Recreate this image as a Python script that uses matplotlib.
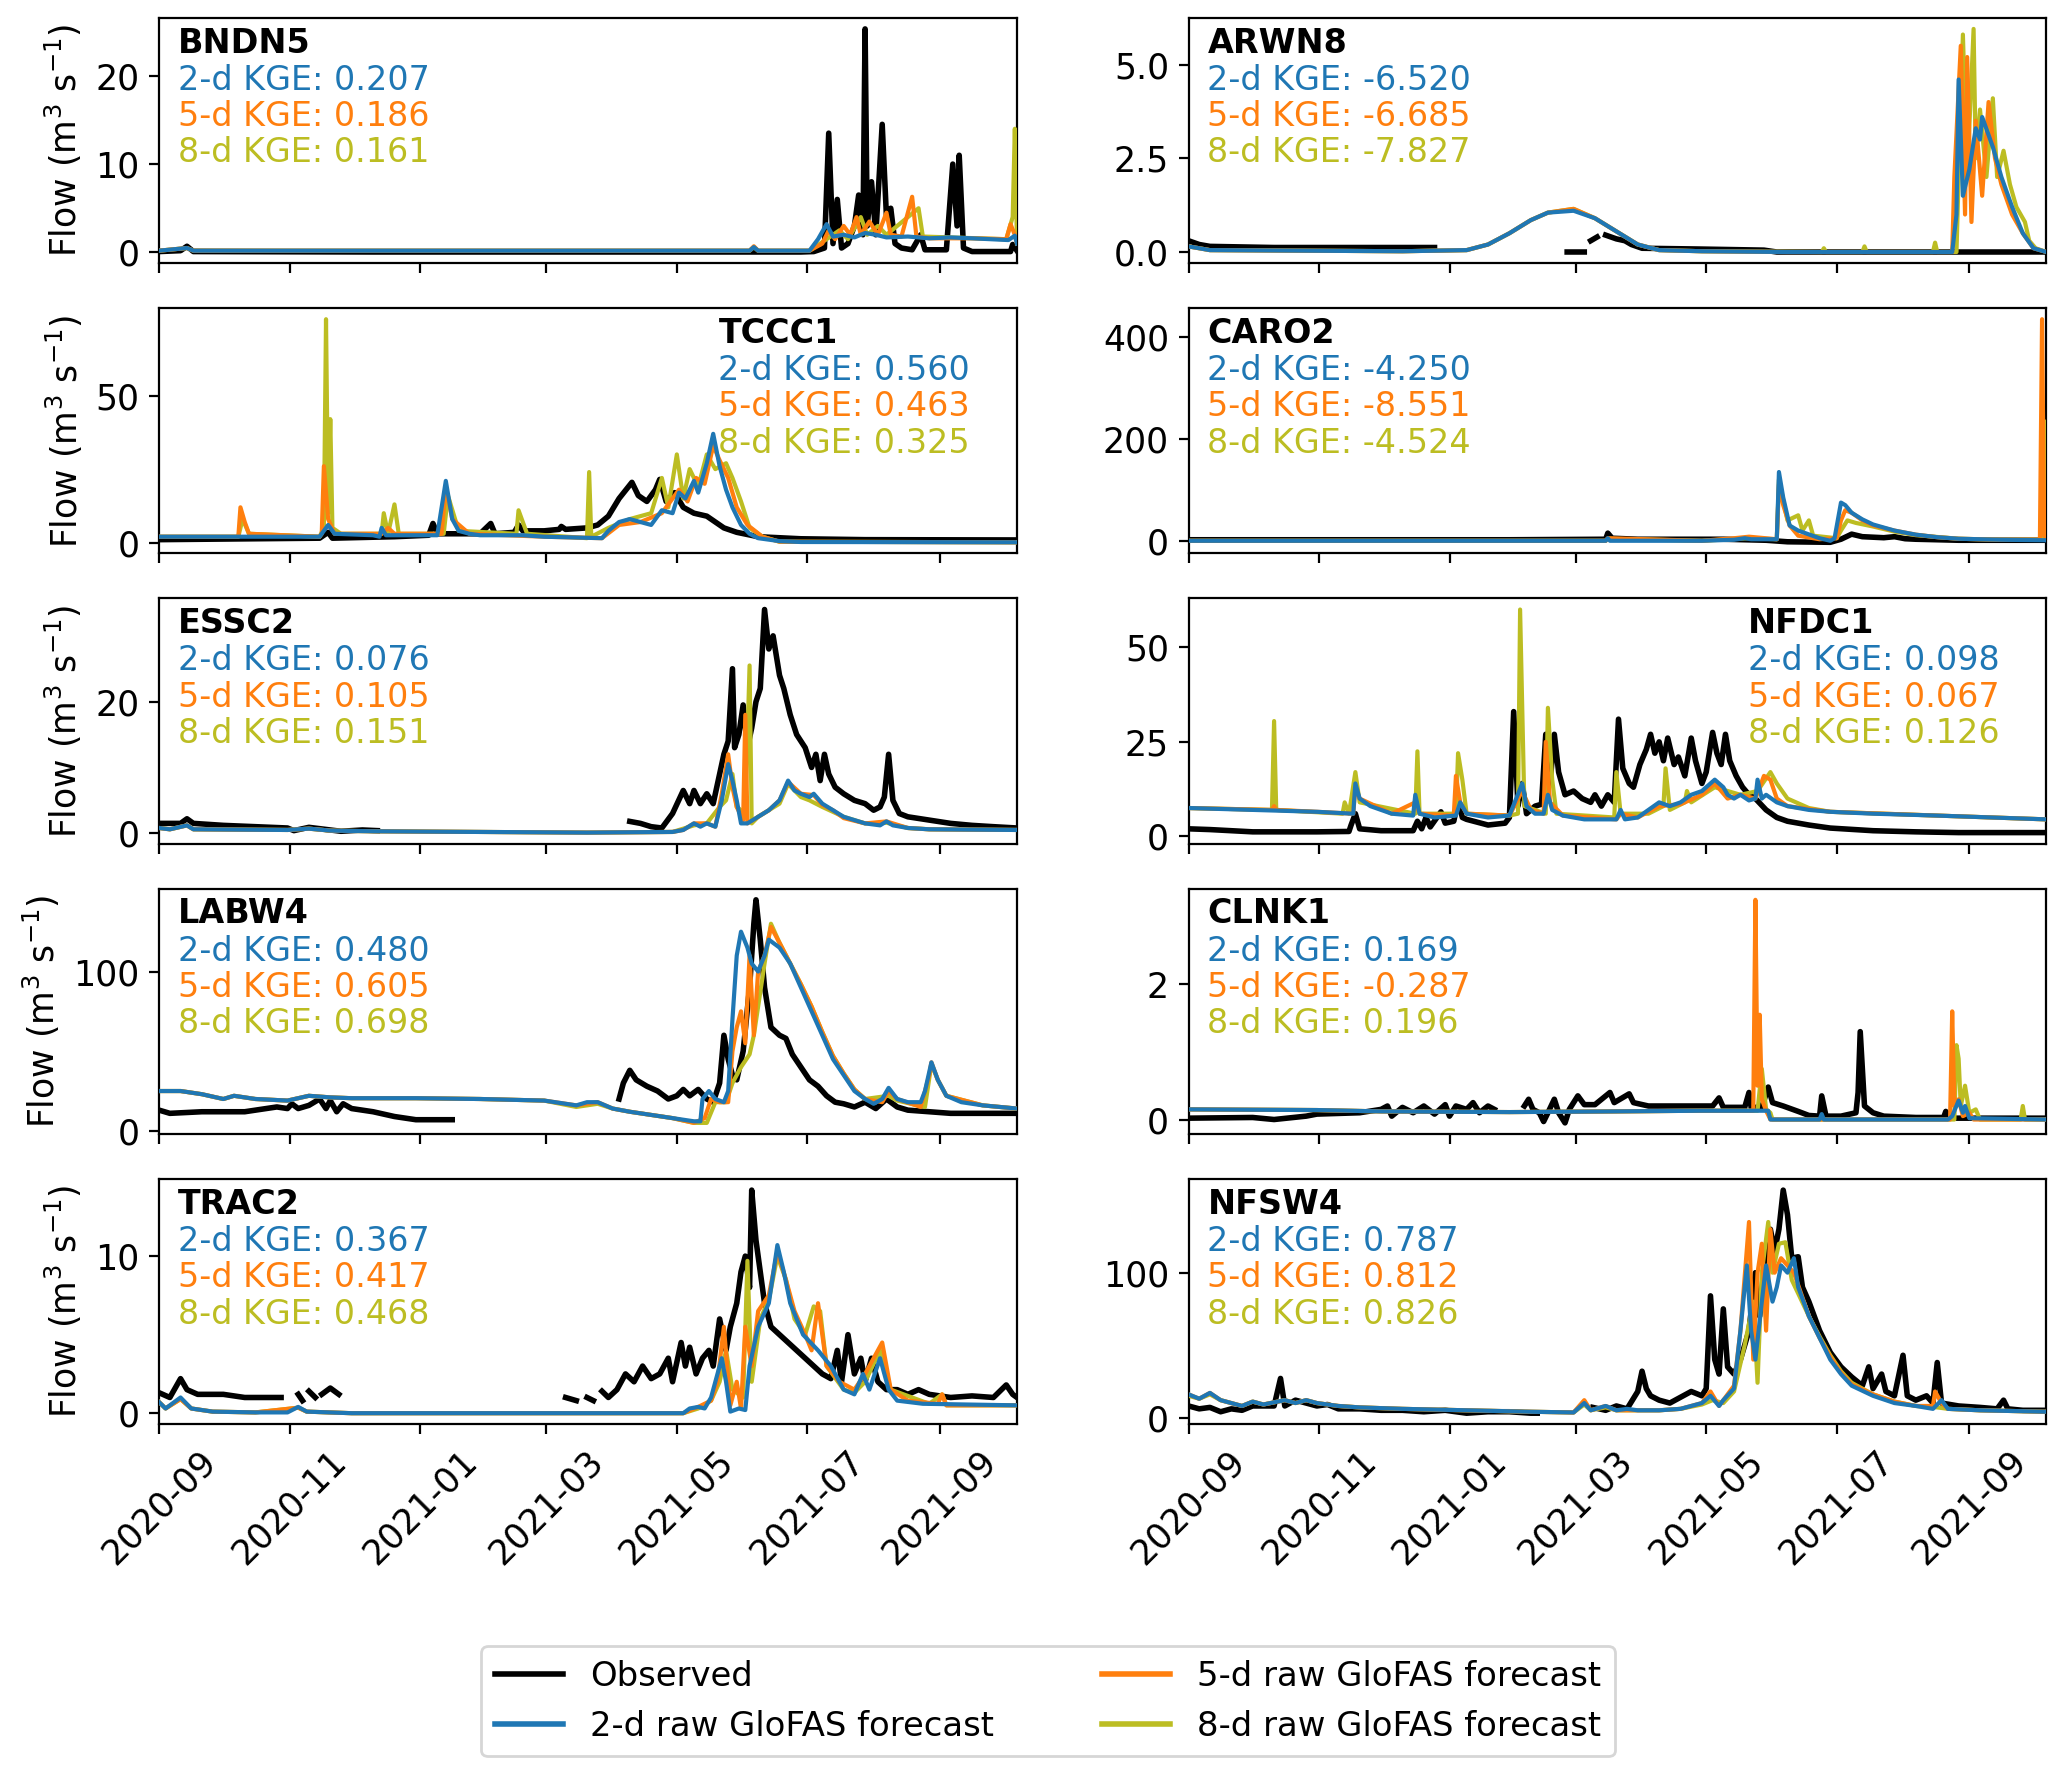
import numpy as np
import matplotlib
matplotlib.use("Agg")
from matplotlib import pyplot as plt
import matplotlib.dates as mdates

START = "2020-09-01"
END_DAY = 401

stations = ["BNDN5", "ARWN8", "TCCC1", "CARO2", "ESSC2",
            "NFDC1", "LABW4", "CLNK1", "TRAC2", "NFSW4"]
kge_2d = ["0.207", "-6.520", "0.560", "-4.250", "0.076",
          "0.098", "0.480", "0.169", "0.367", "0.787"]
kge_5d = ["0.186", "-6.685", "0.463", "-8.551", "0.105",
          "0.067", "0.605", "-0.287", "0.417", "0.812"]
kge_8d = ["0.161", "-7.827", "0.325", "-4.524", "0.151",
          "0.126", "0.698", "0.196", "0.468", "0.826"]
yticks = [[0, 10, 20], [0.0, 2.5, 5.0], [0, 50], [0, 200, 400], [0, 20],
          [0, 25, 50], [0, 100], [0, 2], [0, 10], [0, 100]]

# (day since 2020-09-01, flow); None = missing observation
bndn5_obs = [(0, 0.1), (10, 0.2), (13, 0.7), (16, 0.1), (100, 0.05), (300, 0.05), (306, 0.1), (311, 0.5),
             (313, 13.5), (315, 1), (317, 6), (319, 0.5), (322, 1), (325, 3), (327, 6.5), (329, 2), (330, 25.3),
             (331, 3), (333, 8), (335, 2), (338, 14.5), (340, 4), (342, 5), (344, 1), (347, 0.5), (352, 0.3),
             (356, 2), (358, 0.3), (368, 0.3), (371, 10), (373, 3), (374, 11), (376, 0.5), (380, 0.1),
             (398, 0.1), (399, 0.9), (401, 0.2)]
bndn5_d2 = [(0, 0.2), (13, 0.5), (16, 0.2), (276, 0.2), (278, 0.6), (280, 0.2), (304, 0.2), (308, 1.5),
            (312, 3.2), (315, 1.8), (320, 2.0), (325, 1.7), (330, 2.2), (335, 2.0), (340, 1.7), (350, 1.8),
            (360, 1.6), (370, 1.7), (380, 1.6), (397, 1.4), (400, 1.9), (401, 1.0)]
bndn5_d5 = [(0, 0.2), (13, 0.5), (16, 0.2), (276, 0.2), (278, 0.7), (280, 0.2), (304, 0.2), (310, 1.0),
            (313, 2.5), (316, 1.5), (320, 3), (323, 2), (326, 4), (328, 2), (332, 3.5), (336, 2), (340, 4.5),
            (342, 2), (347, 1.8), (352, 6.3), (354, 1.8), (360, 1.6), (380, 1.6), (396, 1.5), (398, 3.2),
            (400, 2), (401, 1)]
bndn5_d8 = [(0, 0.2), (13, 0.5), (16, 0.2), (276, 0.2), (278, 0.6), (280, 0.2), (304, 0.2), (312, 1.5),
            (318, 2.5), (322, 1.5), (328, 4), (331, 2), (336, 3), (340, 2), (355, 5), (357, 1.8), (370, 1.7),
            (396, 1.5), (399, 4), (400, 14), (401, 1)]

arwn8_obs = [(0, 0.3), (5, 0.2), (10, 0.15), (40, 0.12), (80, 0.12), (115, 0.12), (116, None),
             (177, 0.0), (185, 0.0), (186, None), (188, 0.3), (191, 0.4), (192, None), (195, 0.45),
             (200, 0.35), (204, 0.3), (207, 0.2), (212, 0.1), (238, 0.08), (269, 0.05), (275, 0.0), (401, 0.0)]
arwn8_d2 = [(0, 0.15), (10, 0.05), (100, 0.02), (130, 0.05), (140, 0.2), (150, 0.5), (160, 0.85), (168, 1.05),
            (180, 1.1), (190, 0.9), (200, 0.55), (210, 0.2), (220, 0.05), (240, 0.02), (280, 0.0), (357, 0.0),
            (359, 1.0), (360, 4.6), (362, 1.5), (365, 2.2), (368, 3.3), (370, 3.0), (371, 3.6), (376, 2.8),
            (380, 2.0), (385, 1.2), (390, 0.5), (395, 0.1), (401, 0.0)]
arwn8_d5 = [(0, 0.15), (10, 0.05), (100, 0.02), (130, 0.05), (140, 0.2), (150, 0.5), (160, 0.85), (168, 1.05),
            (180, 1.15), (190, 0.9), (200, 0.55), (210, 0.2), (220, 0.05), (240, 0.02), (280, 0.0), (357, 0.0),
            (358, 2.0), (361, 5.5), (363, 1.0), (364, 5.2), (366, 0.8), (368, 3.5), (371, 1.5), (374, 4.0),
            (377, 2.5), (380, 1.8), (385, 1.0), (390, 0.5), (395, 0.1), (401, 0.0)]
arwn8_d8 = [(0, 0.15), (10, 0.05), (100, 0.02), (130, 0.05), (140, 0.2), (150, 0.5), (160, 0.85), (168, 1.05),
            (180, 1.15), (190, 0.9), (200, 0.55), (210, 0.2), (220, 0.05), (240, 0.02), (296, 0.0), (297, 0.1),
            (298, 0.0), (315, 0.0), (316, 0.15), (317, 0.0), (348, 0.0), (349, 0.25), (350, 0.0), (359, 0.0),
            (360, 2.0), (362, 5.8), (364, 2.0), (367, 5.95), (368, 2.5), (370, 3.8), (373, 2.0), (376, 4.1),
            (378, 2.0), (381, 2.7), (384, 1.8), (387, 1.2), (391, 0.8), (393, 0.3), (396, 0.1), (401, 0.0)]

tccc1_obs = [(0, 1.0), (75, 1.5), (79, 3.5), (81, 1.5), (110, 2), (126, 2.5), (128, 6.5), (130, 3), (150, 3),
             (155, 6.5), (157, 3), (166, 3.5), (168, 6), (170, 4), (180, 4), (187, 4.5), (188, 5.5), (190, 4.5),
             (200, 5), (205, 6), (210, 9), (215, 15), (221, 20.5), (224, 16), (228, 14), (232, 18), (234, 21.5),
             (237, 14), (241, 17), (245, 12), (250, 10), (256, 9), (260, 7), (264, 5), (270, 3.5), (280, 2),
             (300, 1.3), (330, 1.0), (401, 0.9)]
tccc1_d2 = [(0, 2.0), (75, 2.0), (79, 6), (82, 3), (100, 2.5), (103, 2), (104, 5), (106, 2.5), (130, 2.5),
            (134, 21), (137, 8), (140, 4), (145, 3), (150, 2.5), (170, 2.5), (180, 2.0), (207, 1.5), (210, 4),
            (215, 7), (220, 8), (225, 7), (230, 6), (235, 11), (240, 10), (243, 17), (246, 15), (250, 21),
            (252, 17), (256, 27), (259, 37), (262, 26), (265, 18), (268, 12), (272, 6), (276, 3), (280, 1.5),
            (290, 0.5), (300, 0.2), (401, 0.1)]
tccc1_d5 = [(0, 2), (37, 2), (38, 12), (40, 7), (42, 3), (75, 2), (76, 3), (77, 26), (79, 8), (82, 3), (104, 3),
            (107, 5), (110, 3), (132, 3), (134, 19), (137, 8), (145, 3), (180, 2), (207, 1.5), (215, 6), (225, 7),
            (235, 10), (243, 18), (247, 14), (251, 22), (255, 20), (259, 33), (262, 28), (266, 22), (270, 12),
            (275, 6), (282, 2), (290, 0.3), (401, 0.1)]
tccc1_d8 = [(0, 2), (37, 2), (39, 8), (42, 3), (75, 2), (77, 5), (78, 76), (79, 10), (80, 42), (81, 5), (85, 3),
            (104, 3), (105, 10), (107, 3), (110, 13), (112, 3), (133, 3), (135, 16), (140, 4), (167, 3), (168, 11),
            (172, 3), (200, 1.5), (201, 24), (202, 2), (210, 5), (220, 8), (230, 10), (235, 22), (238, 12),
            (242, 30), (245, 15), (248, 25), (252, 19), (256, 30), (260, 25), (265, 27), (268, 22), (272, 14),
            (276, 5), (282, 2), (290, 0.3), (401, 0.1)]

caro2_obs = [(0, 2), (100, 2), (150, 2), (195, 3), (196, 15), (198, 5), (210, 3), (250, 3), (270, 1), (280, -2),
             (300, -3), (305, 3), (310, 13), (315, 8), (325, 6), (330, 8), (335, 4), (340, 3), (360, 1), (401, 1)]
caro2_d2 = [(0, 0), (195, 0), (196, 5), (197, 0), (240, 0), (255, 2), (260, 5), (263, 3), (275, 3), (276, 135),
            (278, 85), (281, 30), (285, 20), (295, 5), (300, 0), (302, 5), (305, 75), (307, 70), (310, 55),
            (315, 42), (320, 32), (330, 20), (340, 12), (350, 7), (360, 4), (380, 2), (401, 1)]
caro2_d5 = [(0, 0), (195, 0), (196, 5), (240, 0), (255, 5), (262, 8), (275, 3), (276, 110), (278, 70), (281, 30),
            (285, 10), (295, 3), (303, 5), (305, 40), (307, 60), (310, 55), (315, 40), (320, 30), (330, 20),
            (340, 12), (350, 7), (360, 4), (380, 2), (398, 2), (399, 435), (400, 10), (401, 5)]
caro2_d8 = [(0, 0), (195, 0), (196, 4), (240, 0), (262, 5), (275, 3), (276, 120), (280, 40), (285, 50),
            (287, 20), (290, 40), (292, 10), (303, 5), (305, 20), (308, 40), (312, 35), (320, 28), (330, 18),
            (340, 11), (360, 4), (380, 2), (399, 2), (400, 235), (401, 10)]

essc2_obs = [(0, 1.5), (10, 1.5), (13, 2.2), (16, 1.5), (30, 1.2), (60, 0.8), (63, 0.4), (70, 0.9), (80, 0.5),
             (85, 0.3), (95, 0.5), (102, 0.4), (103, None), (220, 1.8), (225, 1.5), (230, 1.0), (235, 0.8),
             (240, 3), (245, 6.5), (248, 4.5), (250, 6.5), (253, 4.5), (256, 6), (259, 4.5), (262, 9), (264, 12),
             (266, 14), (268, 25), (269, 13), (271, 15), (273, 19.5), (275, 13), (277, 16), (279, 20), (281, 22),
             (283, 34), (285, 28), (287, 30), (290, 24), (292, 22), (295, 18), (298, 15), (302, 13), (305, 10),
             (307, 12), (309, 8), (311, 12), (313, 9), (316, 7), (320, 6), (325, 5), (330, 4.5), (334, 3.5),
             (337, 4), (339, 5.5), (341, 12), (343, 5), (346, 3), (350, 2.5), (360, 2), (370, 1.5), (380, 1.2),
             (390, 1.0), (401, 0.8)]
essc2_d2 = [(0, 0.8), (5, 0.6), (13, 1.2), (16, 0.6), (60, 0.5), (70, 0.7), (80, 0.4), (100, 0.3), (150, 0.2),
            (200, 0.1), (240, 0.2), (245, 0.5), (250, 1.5), (253, 1.0), (256, 1.5), (260, 1.0), (263, 5),
            (266, 10.5), (268, 8), (270, 5), (272, 1.5), (275, 1.5), (280, 2.5), (285, 3.5), (290, 5), (294, 8),
            (297, 6.5), (300, 6), (304, 5.5), (306, 6), (310, 4.5), (315, 3.5), (320, 2.5), (325, 2), (330, 1.5),
            (337, 1.2), (340, 1.8), (343, 1.2), (350, 0.8), (360, 0.6), (401, 0.5)]
essc2_d5 = [(0, 0.8), (5, 0.6), (13, 1.2), (16, 0.6), (60, 0.5), (70, 0.7), (80, 0.4), (100, 0.3), (150, 0.2),
            (200, 0.1), (240, 0.2), (245, 0.5), (250, 1.5), (256, 1.5), (260, 1.0), (263, 6), (266, 12),
            (268, 7), (270, 4), (273, 2), (274, 18), (275, 1.5), (280, 2.5), (285, 3.5), (290, 5), (294, 7.8),
            (300, 6), (306, 5.8), (310, 4.3), (315, 3.5), (320, 2.3), (330, 1.5), (340, 1.8), (350, 0.8),
            (360, 0.6), (401, 0.5)]
essc2_d8 = [(0, 0.8), (5, 0.6), (13, 1.2), (16, 0.6), (60, 0.5), (70, 0.7), (80, 0.4), (100, 0.3), (150, 0.2),
            (200, 0.1), (240, 0.2), (250, 1.2), (256, 1.5), (262, 4), (265, 5), (268, 9), (270, 4), (274, 3),
            (276, 25.5), (277, 1.5), (280, 2.5), (290, 4.5), (294, 7.5), (300, 5.5), (304, 5), (310, 4),
            (320, 2.5), (330, 1.5), (340, 1.6), (350, 0.8), (360, 0.6), (401, 0.5)]

nfdc1_obs = [(0, 2.0), (10, 1.8), (30, 1.2), (60, 1.2), (75, 1.3), (76, 3), (78, 6), (80, 2), (90, 1.5),
             (105, 1.5), (107, 4), (109, 2), (111, 5), (113, 2.5), (118, 6.5), (120, 3.5), (124, 4), (126, 9.5),
             (128, 5), (130, 4.5), (140, 3), (148, 3.5), (150, 5), (152, 33), (154, 8), (156, 14), (158, 6),
             (162, 8), (165, 8.5), (167, 27), (169, 14), (171, 27), (173, 17), (176, 11), (180, 12), (184, 10),
             (188, 9), (190, 11), (193, 8), (196, 11), (199, 9), (201, 31), (203, 18), (206, 14), (208, 13),
             (211, 19), (214, 23), (216, 27), (218, 22), (220, 25), (222, 20), (224, 26), (227, 19), (229, 21),
             (232, 16), (235, 26), (237, 20), (240, 14), (242, 17), (245, 27.5), (247, 22), (249, 19), (251, 27),
             (253, 20), (256, 16), (259, 13), (262, 11), (265, 10), (270, 7), (275, 5), (280, 4), (290, 3),
             (300, 2.2), (320, 1.5), (340, 1.2), (360, 1.0), (401, 1.0)]
nfdc1_d2 = [(0, 7.5), (30, 7), (60, 6.5), (77, 6), (78, 14), (80, 10), (85, 8), (95, 6), (105, 5.5), (106, 11),
            (108, 6), (115, 5), (125, 5.5), (127, 9), (130, 6), (140, 5), (150, 5.5), (156, 14), (158, 8),
            (162, 6), (166, 6), (168, 11), (170, 7), (175, 5.5), (185, 4.5), (200, 4.5), (202, 7), (204, 4.5),
            (210, 5), (215, 7), (220, 9), (225, 8), (230, 9), (235, 11), (240, 12), (246, 15), (250, 13),
            (252, 11), (255, 10), (258, 11), (262, 9.5), (265, 10), (266, 15), (268, 10), (270, 11), (275, 9),
            (280, 8), (290, 7), (300, 6.5), (320, 6), (350, 5.5), (401, 4.5)]
nfdc1_d5 = [(0, 7.5), (39, 7), (40, 8), (41, 7), (60, 6.5), (77, 6), (78, 13), (80, 10), (95, 6), (106, 9),
            (108, 6), (124, 5.5), (125, 16), (127, 9), (130, 6), (150, 5.5), (156, 12), (160, 7), (166, 6),
            (167, 25), (169, 9), (175, 5.5), (200, 4.5), (202, 6), (210, 5), (220, 8), (230, 8.5), (240, 11),
            (246, 14), (252, 10), (258, 11), (265, 10), (269, 16), (272, 15), (275, 10), (280, 8), (300, 6.5),
            (350, 5.5), (401, 4.5)]
nfdc1_d8 = [(0, 7.5), (39, 7), (40, 30.5), (41, 7), (72, 6), (73, 9), (75, 6), (78, 17), (80, 9), (106, 6),
            (107, 22.5), (108, 6), (125, 6), (126, 22), (128, 15), (130, 6), (150, 5.5), (154, 6), (155, 60),
            (157, 8), (167, 6), (168, 34), (170, 15), (172, 6), (199, 5), (200, 17), (202, 6), (215, 6),
            (222, 8), (223, 18), (225, 7), (232, 9), (233, 12), (235, 9), (246, 13), (258, 11), (266, 12),
            (272, 17), (275, 14), (280, 10), (290, 7.5), (300, 6.5), (350, 5.5), (401, 4.5)]

labw4_obs = [(0, 13), (5, 11), (20, 12), (40, 12), (55, 15), (60, 14), (62, 17), (65, 14), (70, 16), (75, 20),
             (78, 14), (80, 19), (83, 12), (86, 17), (90, 14), (100, 12), (110, 9), (120, 7), (137, 7),
             (138, None), (215, 20), (217, 30), (220, 38), (223, 32), (228, 28), (233, 25), (238, 20), (242, 22),
             (245, 26), (248, 22), (252, 26), (256, 20), (259, 18), (262, 30), (264, 60), (266, 45), (268, 35),
             (270, 32), (273, 50), (276, 90), (278, 130), (279, 145), (281, 120), (283, 90), (286, 65), (290, 60),
             (293, 58), (296, 48), (300, 40), (304, 32), (308, 28), (312, 22), (316, 18), (320, 17), (325, 15),
             (330, 18), (335, 14), (340, 20), (345, 15), (350, 13), (360, 12), (370, 11), (401, 11)]
labw4_d2 = [(0, 25), (10, 25), (20, 23), (30, 20), (35, 22), (45, 20), (60, 19), (70, 22), (80, 21), (90, 20.5),
            (120, 20.5), (150, 20), (180, 19), (195, 16), (200, 18), (205, 18), (212, 14), (220, 12), (230, 10),
            (240, 8), (250, 6), (253, 6), (254, 20), (257, 25), (260, 20), (264, 18), (266, 25), (268, 70),
            (270, 110), (272, 125), (275, 115), (277, 105), (280, 100), (283, 110), (285, 120), (290, 115),
            (295, 105), (300, 90), (305, 75), (310, 60), (315, 45), (320, 35), (325, 25), (330, 20), (334, 17),
            (338, 20), (341, 27), (345, 20), (350, 18), (356, 18), (358, 25), (361, 43), (364, 32), (368, 22),
            (375, 18), (385, 16), (401, 14)]
labw4_d5 = [(0, 25), (10, 25), (20, 23), (30, 20), (35, 22), (45, 20), (60, 19), (70, 22), (80, 21), (90, 20.5),
            (120, 20.5), (150, 20), (180, 19), (195, 16), (200, 17), (205, 18), (212, 14), (220, 12), (230, 10),
            (240, 8), (250, 5), (255, 8), (258, 20), (262, 18), (266, 18), (268, 50), (270, 65), (272, 75),
            (274, 55), (276, 110), (278, 60), (280, 100), (283, 110), (286, 128), (290, 118), (295, 105),
            (300, 92), (305, 78), (310, 62), (315, 47), (320, 36), (325, 26), (330, 20), (338, 18), (341, 25),
            (345, 20), (356, 15), (360, 35), (361, 43), (364, 32), (368, 22), (385, 16), (401, 14)]
labw4_d8 = [(0, 25), (10, 25), (20, 23), (30, 20), (35, 22), (45, 20), (60, 19), (70, 22), (80, 21), (90, 20.5),
            (120, 20.5), (150, 20), (180, 19), (195, 15), (200, 16), (205, 17), (212, 14), (220, 12), (230, 10),
            (240, 8), (250, 5), (256, 5), (260, 18), (265, 18), (268, 30), (272, 40), (276, 48), (278, 60),
            (283, 105), (286, 130), (290, 118), (295, 105), (300, 92), (305, 78), (310, 62), (315, 47),
            (320, 36), (325, 26), (330, 20), (341, 22), (345, 19), (358, 15), (361, 42), (364, 32), (368, 22),
            (385, 16), (401, 14)]

clnk1_obs = [(0, 0.02), (30, 0.03), (40, 0.0), (55, 0.05), (60, 0.08), (80, 0.1), (90, 0.15), (93, 0.2),
             (95, 0.05), (100, 0.18), (105, 0.1), (110, 0.2), (115, 0.08), (120, 0.22), (122, 0.05), (125, 0.2),
             (130, 0.15), (133, 0.25), (136, 0.1), (140, 0.2), (143, 0.15), (144, None), (157, 0.2), (159, 0.3),
             (161, 0.15), (164, 0.1), (166, -0.03), (168, 0.1), (171, 0.3), (173, 0.1), (176, -0.05),
             (178, 0.15), (182, 0.35), (185, 0.22), (190, 0.22), (197, 0.4), (199, 0.25), (206, 0.38),
             (208, 0.25), (215, 0.2), (245, 0.2), (248, 0.32), (250, 0.18), (260, 0.18), (262, 0.4), (263, 0.18),
             (268, 0.18), (271, 0.48), (273, 0.25), (278, 0.2), (285, 0.12), (290, 0.06), (295, 0.05),
             (296, 0.35), (298, 0.05), (305, 0.05), (312, 0.1), (313, 0.4), (314, 1.3), (316, 0.2), (320, 0.1),
             (325, 0.05), (340, 0.03), (353, 0.03), (354, 0.12), (356, 0.02), (401, 0.02)]
clnk1_d2 = [(0, 0.15), (60, 0.14), (90, 0.12), (150, 0.11), (200, 0.12), (240, 0.13), (271, 0.13), (272, 0.0),
            (295, 0.0), (296, 0.08), (297, 0.0), (355, 0.0), (357, 0.05), (360, 0.28), (362, 0.1), (363, 0.2),
            (365, 0.02), (401, 0.0)]
clnk1_d5 = [(0, 0.15), (60, 0.14), (90, 0.12), (150, 0.11), (200, 0.12), (240, 0.13), (264, 0.13), (265, 3.25),
            (266, 0.5), (267, 1.55), (268, 0.3), (270, 0.13), (272, 0.0), (356, 0.0), (357, 1.6), (358, 0.2),
            (360, 0.3), (362, 0.05), (365, 0.1), (367, 0.0), (401, 0.0)]
clnk1_d8 = [(0, 0.15), (60, 0.14), (90, 0.12), (150, 0.11), (200, 0.12), (240, 0.13), (266, 0.13), (268, 0.75),
            (270, 0.15), (272, 0.1), (273, 0.0), (358, 0.0), (359, 1.1), (360, 0.9), (361, 0.2), (363, 0.5),
            (365, 0.1), (368, 0.15), (370, 0.0), (389, 0.0), (390, 0.2), (391, 0.0), (401, 0.0)]

trac2_obs = [(0, 1.3), (5, 1.0), (10, 2.2), (13, 1.5), (18, 1.2), (30, 1.2), (40, 1.0), (50, 1.0), (57, 1.0),
             (58, None), (65, 1.2), (67, 0.8), (68, None), (70, 1.4), (73, 1.0), (74, None), (76, 1.2), (80, 1.6),
             (84, 1.2), (85, None), (190, 1.0), (195, 0.8), (196, None), (200, 1.0), (203, 0.8), (204, None),
             (207, 1.4), (210, 1.0), (214, 1.5), (218, 2.5), (222, 2.0), (226, 3.0), (230, 2.2), (234, 2.5),
             (238, 3.5), (240, 2.0), (244, 4.5), (246, 3.0), (248, 4.2), (251, 2.5), (254, 3.5), (257, 4.0),
             (259, 3.0), (262, 6.0), (265, 4.0), (267, 5.5), (270, 7.0), (272, 9.0), (274, 10), (276, 8),
             (277, 14.2), (279, 11), (281, 9), (283, 7), (286, 5.5), (290, 5.0), (294, 4.5), (298, 4.0),
             (302, 3.5), (306, 3.0), (310, 2.5), (314, 2.2), (317, 4.0), (319, 2.0), (322, 5.0), (325, 2.5),
             (328, 3.5), (330, 2.0), (333, 3.5), (336, 2.0), (340, 1.5), (345, 1.5), (350, 1.2), (355, 1.5),
             (360, 1.2), (370, 1.0), (380, 1.1), (390, 1.0), (396, 1.8), (399, 1.2), (401, 1.0)]
trac2_d2 = [(0, 0.7), (3, 0.3), (10, 1.0), (15, 0.3), (25, 0.1), (45, 0.05), (60, 0.05), (65, 0.4), (69, 0.1),
            (90, 0.0), (245, 0.0), (248, 0.3), (252, 0.4), (255, 0.3), (258, 1.0), (261, 2.5), (263, 3.5),
            (265, 2.0), (267, 0.1), (271, 0.3), (274, 0.2), (276, 3.0), (280, 5.5), (285, 7.0), (289, 10.7),
            (292, 9.0), (295, 7.0), (301, 5.0), (308, 4.0), (314, 3.0), (320, 1.5), (325, 1.2), (329, 2.5),
            (332, 1.5), (337, 3.5), (341, 1.5), (345, 0.8), (357, 0.6), (401, 0.5)]
trac2_d5 = [(0, 0.7), (3, 0.3), (10, 0.9), (15, 0.3), (25, 0.1), (45, 0.05), (65, 0.35), (69, 0.1), (90, 0.0),
            (245, 0.0), (252, 0.4), (258, 0.8), (261, 2.0), (264, 5.5), (267, 0.5), (270, 2.0), (272, 0.3),
            (274, 5.5), (277, 3.0), (280, 6.5), (285, 7.5), (289, 10.3), (293, 8.5), (297, 6.5), (302, 5.0),
            (305, 4.0), (308, 7.0), (312, 3.0), (318, 2.0), (325, 1.5), (330, 2.5), (338, 4.5), (342, 1.5),
            (350, 0.8), (364, 0.6), (366, 1.2), (368, 0.5), (401, 0.5)]
trac2_d8 = [(0, 0.7), (3, 0.3), (10, 0.9), (15, 0.3), (25, 0.1), (45, 0.05), (65, 0.35), (69, 0.1), (90, 0.0),
            (245, 0.0), (252, 0.3), (258, 0.8), (262, 2.0), (265, 4.0), (268, 1.5), (273, 1.0), (275, 9.7),
            (277, 2.0), (281, 6.0), (285, 7.2), (289, 10.0), (293, 8.5), (297, 6.0), (302, 5.0), (306, 6.8),
            (309, 6.5), (312, 3.0), (320, 1.5), (325, 1.3), (330, 2.0), (337, 4.0), (342, 1.5), (360, 0.6),
            (366, 1.2), (368, 0.5), (401, 0.5)]

nfsw4_obs = [(0, 8), (5, 6), (10, 7), (15, 4), (20, 6), (25, 5), (30, 8), (40, 8), (43, 27), (45, 8), (50, 12),
             (55, 10), (60, 8), (65, 9), (70, 6), (80, 6), (90, 5), (100, 5), (110, 4), (120, 5), (130, 3),
             (140, 4), (150, 4), (160, 3), (163, 3), (164, None), (189, 7), (195, 5), (200, 8), (205, 6),
             (210, 18), (212, 32), (214, 20), (216, 15), (220, 12), (225, 10), (230, 14), (235, 18), (240, 15),
             (242, 20), (244, 84), (246, 40), (248, 30), (250, 75), (252, 35), (255, 30), (258, 40), (262, 60),
             (265, 100), (267, 70), (270, 110), (272, 130), (274, 115), (276, 130), (278, 157), (280, 140),
             (282, 110), (285, 111), (287, 90), (290, 80), (295, 60), (300, 45), (305, 35), (310, 28), (315, 22),
             (318, 35), (320, 20), (324, 30), (326, 18), (330, 15), (334, 43), (336, 15), (340, 12), (345, 15),
             (348, 10), (350, 38), (352, 10), (360, 8), (370, 7), (378, 6), (381, 12), (383, 6), (390, 5),
             (401, 5)]
nfsw4_d2 = [(0, 16), (5, 13), (10, 17), (15, 12), (20, 10), (25, 8), (30, 11), (35, 9), (45, 12), (50, 10),
            (55, 12), (60, 10), (70, 8), (80, 7), (100, 6), (130, 5), (160, 4), (180, 3.5), (185, 10), (188, 5),
            (195, 8), (200, 5), (205, 6), (210, 5), (220, 5), (230, 6), (240, 10), (244, 15), (248, 8),
            (250, 12), (255, 20), (258, 60), (261, 105), (263, 60), (265, 40), (268, 80), (270, 105), (273, 80),
            (275, 90), (277, 105), (280, 100), (283, 110), (285, 90), (290, 70), (295, 55), (300, 40), (305, 30),
            (310, 22), (320, 15), (330, 10), (340, 8), (348, 6), (352, 12), (355, 6), (370, 5), (401, 4)]
nfsw4_d5 = [(0, 16), (5, 13), (10, 17), (15, 12), (20, 10), (25, 8), (30, 11), (35, 9), (45, 12), (50, 10),
            (55, 12), (60, 10), (70, 8), (80, 7), (100, 6), (130, 5), (160, 4), (180, 3.5), (185, 12), (188, 5),
            (195, 8), (200, 5), (210, 5), (220, 5), (230, 6), (240, 10), (244, 18), (248, 8), (255, 22),
            (258, 60), (262, 135), (264, 40), (266, 100), (268, 120), (270, 60), (272, 130), (274, 100),
            (277, 110), (280, 105), (283, 100), (290, 70), (295, 55), (300, 42), (305, 31), (310, 23), (320, 16),
            (330, 11), (340, 8), (348, 8), (349, 18), (352, 10), (355, 6), (370, 5), (401, 4)]
nfsw4_d8 = [(0, 15), (5, 13), (10, 16), (15, 12), (20, 10), (25, 8), (30, 11), (35, 9), (45, 12), (50, 10),
            (55, 12), (60, 10), (70, 8), (80, 7), (100, 6), (130, 5), (160, 4), (180, 3.5), (185, 9), (188, 5),
            (195, 7), (200, 5), (210, 5), (220, 5), (230, 6), (240, 9), (245, 12), (250, 10), (255, 18),
            (260, 50), (264, 80), (266, 24), (268, 100), (271, 135), (273, 100), (276, 120), (279, 121),
            (282, 95), (290, 70), (295, 56), (300, 43), (305, 32), (310, 24), (320, 16), (330, 11), (340, 8),
            (350, 7), (355, 6), (370, 5), (401, 4)]

obs_all = [bndn5_obs, arwn8_obs, tccc1_obs, caro2_obs, essc2_obs, nfdc1_obs, labw4_obs, clnk1_obs, trac2_obs, nfsw4_obs]
d2_all = [bndn5_d2, arwn8_d2, tccc1_d2, caro2_d2, essc2_d2, nfdc1_d2, labw4_d2, clnk1_d2, trac2_d2, nfsw4_d2]
d5_all = [bndn5_d5, arwn8_d5, tccc1_d5, caro2_d5, essc2_d5, nfdc1_d5, labw4_d5, clnk1_d5, trac2_d5, nfsw4_d5]
d8_all = [bndn5_d8, arwn8_d8, tccc1_d8, caro2_d8, essc2_d8, nfdc1_d8, labw4_d8, clnk1_d8, trac2_d8, nfsw4_d8]

C_OBS = "black"
C_D2 = "#1f77b4"
C_D5 = "#ff7f0e"
C_D8 = "#bcbd22"


def to_series(pairs):
    days = np.array([p[0] for p in pairs], dtype=int)
    vals = np.array([np.nan if p[1] is None else p[1] for p in pairs], dtype=float)
    dates = np.datetime64(START) + days.astype("timedelta64[D]")
    return dates, vals


plt.rcParams["font.size"] = 12.5

fig, axs = plt.subplots(5, 2, figsize=(10.335, 8.88), dpi=200, sharex=True)
fig.subplots_adjust(left=0.077, right=0.990, top=0.990, bottom=0.198, wspace=0.2, hspace=0.183)

x0 = np.datetime64(START)
x1 = x0 + np.timedelta64(END_DAY, "D")

for i, ax in enumerate(axs.flat):
    t, q = to_series(obs_all[i])
    h_obs, = ax.plot(t, q, color=C_OBS, lw=2.0, zorder=2)
    t, q = to_series(d8_all[i])
    h8, = ax.plot(t, q, color=C_D8, lw=1.5, zorder=3)
    t, q = to_series(d5_all[i])
    h5, = ax.plot(t, q, color=C_D5, lw=1.5, zorder=4)
    t, q = to_series(d2_all[i])
    h2, = ax.plot(t, q, color=C_D2, lw=1.5, zorder=5)

    ax.set_xlim(x0, x1)
    ax.set_yticks(yticks[i])

    tx = 0.652 if stations[i] in ("TCCC1", "NFDC1") else 0.022
    ax.text(tx, 0.897, stations[i], transform=ax.transAxes, fontsize=12,
            fontweight="bold", va="center", ha="left")
    ax.text(tx, 0.745, "2-d KGE: " + kge_2d[i], transform=ax.transAxes, fontsize=12,
            color=C_D2, va="center", ha="left")
    ax.text(tx, 0.597, "5-d KGE: " + kge_5d[i], transform=ax.transAxes, fontsize=12,
            color=C_D5, va="center", ha="left")
    ax.text(tx, 0.449, "8-d KGE: " + kge_8d[i], transform=ax.transAxes, fontsize=12,
            color=C_D8, va="center", ha="left")

    if i % 2 == 0:
        ax.set_ylabel("Flow (m$^3$ s$^{-1}$)", fontsize=12.5)

    ax.xaxis.set_major_locator(mdates.MonthLocator(bymonth=[1, 3, 5, 7, 9, 11]))
    ax.xaxis.set_major_formatter(mdates.DateFormatter("%Y-%m"))

for ax in axs[-1]:
    for lbl in ax.get_xticklabels():
        lbl.set_rotation(45)

leg = fig.legend([h_obs, h2, h5, h8],
                 ["Observed", "2-d raw GloFAS forecast", "5-d raw GloFAS forecast", "8-d raw GloFAS forecast"],
                 ncol=2, loc="center", bbox_to_anchor=(0.507, 0.042), fontsize=12.2, columnspacing=3.2)
for line in leg.get_lines():
    line.set_linewidth(2.0)

fig.savefig("out.png", dpi=200)
